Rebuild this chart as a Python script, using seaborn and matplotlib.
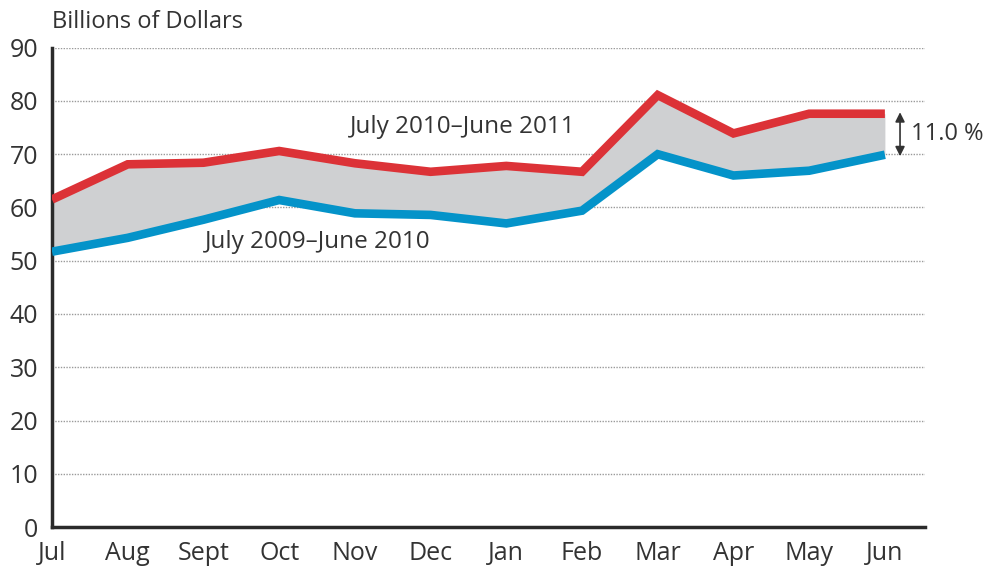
import numpy as np
import pandas as pd
import matplotlib.pyplot as plt
import seaborn as sns

months = ["Jul", "Aug", "Sept", "Oct", "Nov", "Dec", "Jan", "Feb", "Mar", "Apr", "May", "Jun"]
fy2011 = [61.5, 68.1, 68.4, 70.6, 68.3, 66.7, 67.8, 66.7, 81.1, 73.9, 77.6, 77.6]
fy2010 = [51.7, 54.3, 57.7, 61.4, 58.9, 58.6, 57.0, 59.4, 70.0, 66.0, 66.9, 69.9]
label_2011 = "July 2010\u2013June 2011"
label_2010 = "July 2009\u2013June 2010"
change_label = "11.0 %"

sns.set_style("white")
plt.rcParams["font.family"] = ["Open Sans", "DejaVu Sans"]
txt = "#333333"

df = pd.DataFrame({"x": np.arange(len(months)), "new": fy2011, "old": fy2010})

fig = plt.figure(figsize=(9.87, 5.67), dpi=100)
ax = fig.add_axes([0.0527, 0.0705, 0.8845, 0.8454])

ax.fill_between(df["x"], df["old"], df["new"], color="#cfd0d2", lw=0, zorder=1)
sns.lineplot(data=df, x="x", y="new", color="#dc3237", lw=6.2, ax=ax, zorder=3,
             solid_capstyle="butt", solid_joinstyle="miter")
sns.lineplot(data=df, x="x", y="old", color="#0493c9", lw=6.2, ax=ax, zorder=3,
             solid_capstyle="butt", solid_joinstyle="miter")

ax.set_xlim(0, 11.53)
ax.set_ylim(0, 90)
ax.set_yticks(range(0, 91, 10))
for v in range(10, 91, 10):
    ax.axhline(v, color="#9a9a9a", lw=1, ls=(0, (1, 1)), zorder=0)

ax.set_xticks(df["x"])
ax.set_xticklabels(months)
ax.tick_params(axis="x", direction="in", length=14, width=1.2, color="#333333",
               labelsize=18, labelcolor=txt, pad=10)
ax.tick_params(axis="y", length=0, labelsize=18, labelcolor=txt, pad=10)
ax.xaxis.get_major_ticks()[0].tick1line.set_visible(False)
ax.set_xlabel("")
ax.set_ylabel("")

for s in ["top", "right"]:
    ax.spines[s].set_visible(False)
for s in ["left", "bottom"]:
    ax.spines[s].set_color("#2b2b2b")
    ax.spines[s].set_linewidth(2.5)

fig.text(0.0527, 0.962, "Billions of Dollars", fontsize=17, color=txt, va="center", ha="left")

ax.text(5.43, 75.1, label_2011, fontsize=17.5, color=txt, ha="center", va="center")
ax.text(3.51, 53.5, label_2010, fontsize=17.5, color=txt, ha="center", va="center")

ax.annotate("", xy=(11.2, fy2010[-1] - 0.8), xytext=(11.2, fy2011[-1] + 0.8),
            arrowprops=dict(arrowstyle="<|-|>", color="#333333", lw=1.2, mutation_scale=14),
            annotation_clip=False)
ax.text(11.35, 73.8, change_label, fontsize=17, color=txt, ha="left", va="center", clip_on=False)

fig.savefig("out.png", dpi=100)
